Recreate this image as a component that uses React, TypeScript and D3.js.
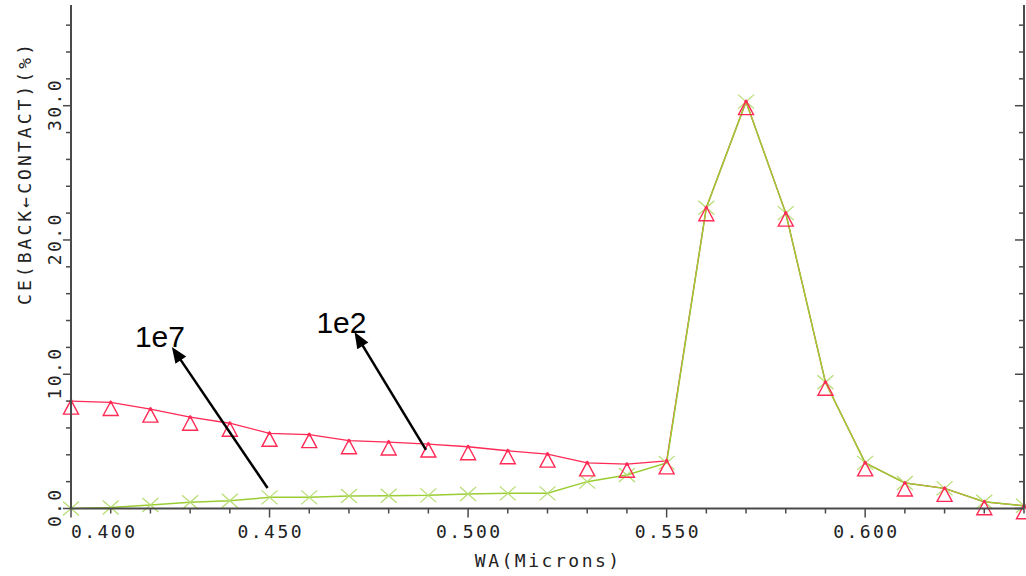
import React, { useEffect } from "react";
import * as d3 from "d3";

const xValues = [0.40, 0.41, 0.42, 0.43, 0.44, 0.45, 0.46, 0.47, 0.48, 0.49, 0.50, 0.51, 0.52, 0.53, 0.54, 0.55, 0.56, 0.57, 0.58, 0.59, 0.60, 0.61, 0.62, 0.63, 0.64];
const series1e2 = [8.0, 7.9, 7.4, 6.8, 6.35, 5.6, 5.5, 5.05, 4.95, 4.8, 4.6, 4.3, 4.05, 3.4, 3.3, 3.55, 22.4, 30.3, 22.0, 9.4, 3.4, 1.9, 1.5, 0.5, 0.2];
const series1e7 = [0.0, 0.08, 0.26, 0.46, 0.58, 0.83, 0.83, 0.93, 0.95, 0.98, 1.08, 1.13, 1.13, 2.0, 2.5, 3.4, 22.4, 30.3, 22.0, 9.4, 3.4, 1.9, 1.5, 0.5, 0.2];

const xMajorTicks = [0.40, 0.45, 0.50, 0.55, 0.60];
const xTickLabels = ["0.400", "0.450", "0.500", "0.550", "0.600"];
const yMajorTicks = [0, 10, 20, 30];
const yTickLabels = ["0.0", "10.0", "20.0", "30.0"];

const xTitle = "WA(Microns)";
const yTitle = "CE(BACK\u2190CONTACT)(%)";

// annotations in data coordinates
const annotations = [
  { label: "1e7", tx: 0.4161, ty: 12.03, from: [0.4495, 1.53], to: [0.4254, 12.03] },
  { label: "1e2", tx: 0.4618, ty: 13.07, from: [0.4894, 4.36], to: [0.4714, 13.14] },
];

const W = 1026, H = 576;
const x = d3.scaleLinear().domain([0.40, 0.64]).range([71, 1024]);
const y = d3.scaleLinear().domain([0, 37.5]).range([508.5, 5]);

const RED = "#ff2a55";
const GREEN = "#9acd32";
const AX = "#4a4a4a";
const MONO = "'DejaVu Sans Mono', monospace";
const PITCH = 13.4;

export default function App() {
  useEffect(() => {
    document.body.style.margin = "0";
  }, []);

  const xMinor = d3.range(0, 25).map((i) => 0.40 + i * 0.01);
  const yMinor = d3.range(0, 19).map((i) => i * 2);
  const isMajorX = (v: number) => xMajorTicks.some((m) => Math.abs(m - v) < 1e-6);
  const isMajorY = (v: number) => yMajorTicks.includes(v);

  const line = d3.line<number>().x((_, i) => x(xValues[i])).y((d) => y(d));

  const arrowHead = (x1: number, y1: number, x2: number, y2: number) => {
    const ang = Math.atan2(y2 - y1, x2 - x1);
    const L = 16, Wd = 6.5;
    const bx = x2 - L * Math.cos(ang), by = y2 - L * Math.sin(ang);
    const px = -Math.sin(ang) * Wd, py = Math.cos(ang) * Wd;
    return `M${x2},${y2}L${bx + px},${by + py}L${bx - px},${by - py}Z`;
  };

  const tl = (s: string) => s.length * PITCH - 3;

  return (
    <svg width={W} height={H} style={{ display: "block", background: "#fff" }}>
      {/* series 1e2 (red, triangles) */}
      <path d={line(series1e2) || ""} fill="none" stroke={RED} strokeWidth={1.3} />
      {/* series 1e7 (green, crosses) */}
      <path d={line(series1e7) || ""} fill="none" stroke={GREEN} strokeWidth={1.5} />
      {series1e7.map((v, i) => {
        const cx = x(xValues[i]), cy = y(v);
        return (
          <g key={"g" + i} stroke="#b5dc70" strokeWidth={1.2}>
            <line x1={cx - 8} y1={cy - 7} x2={cx + 8} y2={cy + 7} />
            <line x1={cx - 8} y1={cy + 7} x2={cx + 8} y2={cy - 7} />
          </g>
        );
      })}
      {series1e2.map((v, i) => {
        const cx = x(xValues[i]), cy = y(v);
        return (
          <g key={"r" + i}>
            <path d={`M${cx},${cy - 1}L${cx + 7.5},${cy + 13}L${cx - 7.5},${cy + 13}Z`} fill="none" stroke={RED} strokeWidth={1.4} />
            <circle cx={cx} cy={cy} r={1.8} fill={RED} />
          </g>
        );
      })}

      {/* axes */}
      <line x1={x(0.40)} y1={y(0)} x2={x(0.64)} y2={y(0)} stroke={AX} strokeWidth={2} />
      <line x1={x(0.40)} y1={y(37.5)} x2={x(0.40)} y2={y(0)} stroke={AX} strokeWidth={2} />
      <line x1={x(0.64)} y1={y(37.5)} x2={x(0.64)} y2={y(0)} stroke={AX} strokeWidth={2} />
      {xMinor.map((v, i) => (
        <line key={"xt" + i} x1={x(v)} x2={x(v)} y1={y(0)} y2={y(0) + (isMajorX(v) ? 9 : 5)} stroke={AX} strokeWidth={1.5} />
      ))}
      {yMinor.map((v, i) => (
        <g key={"yt" + i}>
          <line x1={x(0.40)} x2={x(0.40) - (isMajorY(v) ? 8 : 5)} y1={y(v)} y2={y(v)} stroke={AX} strokeWidth={1.5} />
          <line x1={x(0.64)} x2={x(0.64) - (isMajorY(v) ? 9 : 5)} y1={y(v)} y2={y(v)} stroke={AX} strokeWidth={1.5} />
        </g>
      ))}
      {xMajorTicks.map((v, i) => (
        <text key={"xl" + i} x={i === 0 ? x(v) : x(v) - tl(xTickLabels[i]) / 2} y={538}
          textLength={tl(xTickLabels[i])} lengthAdjust="spacing"
          fontFamily={MONO} fontSize={18} fill="#222">
          {xTickLabels[i]}
        </text>
      ))}
      {yMajorTicks.map((v, i) => (
        <text key={"yl" + i} transform={`translate(61,${y(v) + tl(yTickLabels[i]) / 2}) rotate(-90)`}
          textLength={tl(yTickLabels[i])} lengthAdjust="spacing"
          fontFamily={MONO} fontSize={18} fill="#222">
          {yTickLabels[i]}
        </text>
      ))}
      <text x={547 - tl(xTitle) / 2} y={567} textLength={tl(xTitle)} lengthAdjust="spacing"
        fontFamily={MONO} fontSize={18} fill="#222">{xTitle}</text>
      <text transform={`translate(31,305) rotate(-90)`} textLength={261} lengthAdjust="spacing"
        fontFamily={MONO} fontSize={18} fill="#222">{yTitle}</text>

      {/* annotations */}
      {annotations.map((a, i) => {
        const x1 = x(a.from[0]), y1 = y(a.from[1]), x2 = x(a.to[0]), y2 = y(a.to[1]);
        const ang = Math.atan2(y2 - y1, x2 - x1);
        return (
          <g key={"a" + i}>
            <line x1={x1} y1={y1} x2={x2 - 12 * Math.cos(ang)} y2={y2 - 12 * Math.sin(ang)} stroke="#000" strokeWidth={2.5} />
            <path d={arrowHead(x1, y1, x2, y2)} fill="#000" />
            <text x={x(a.tx)} y={y(a.ty)} fontFamily="'Liberation Sans', Arial, sans-serif" fontSize={30} fill="#000">{a.label}</text>
          </g>
        );
      })}
    </svg>
  );
}
